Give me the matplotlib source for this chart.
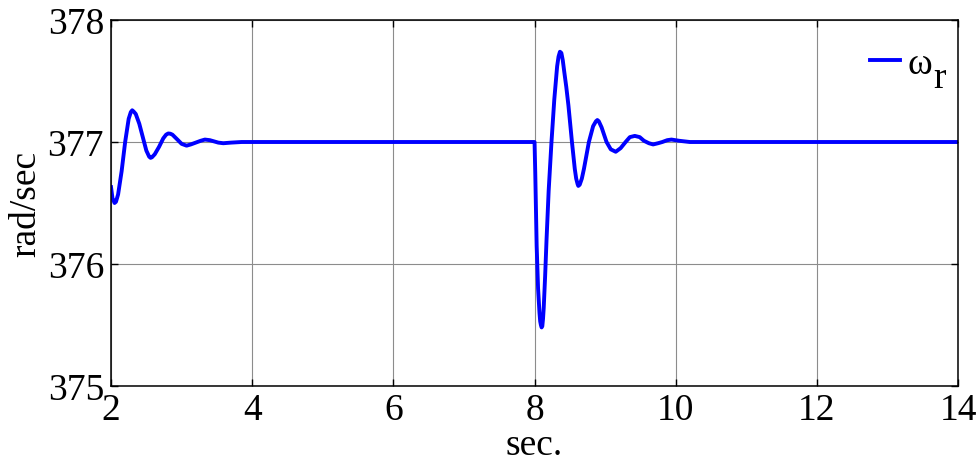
import matplotlib
matplotlib.use("Agg")
import matplotlib.pyplot as plt

plt.rcParams['font.family'] = ['Liberation Serif', 'DejaVu Serif']

# rotor speed, start-up transient then load step at t = 8 s
t_start = [2.00, 2.02, 2.05, 2.07, 2.10, 2.15, 2.20, 2.25, 2.28, 2.30, 2.32,
           2.35, 2.40, 2.45, 2.50, 2.54, 2.56, 2.58, 2.62, 2.68, 2.74, 2.78,
           2.81, 2.84, 2.87, 2.94, 3.00, 3.07, 3.13, 3.20, 3.27, 3.33, 3.40,
           3.46, 3.52, 3.59, 3.70, 3.85, 4.0, 5.0, 6.0, 7.0, 7.99]
w_start = [376.63, 376.54, 376.50, 376.51, 376.57, 376.76, 377.00, 377.19,
           377.245, 377.26, 377.25, 377.23, 377.15, 377.04, 376.93, 376.88,
           376.87, 376.875, 376.90, 376.96, 377.03, 377.06, 377.07, 377.068,
           377.06, 377.02, 376.985, 376.97, 376.98, 376.995, 377.01, 377.02,
           377.015, 377.005, 376.995, 376.99, 376.995, 377.0, 377.0, 377.0,
           377.0, 377.0, 377.0]

t_step = [8.00, 8.01, 8.02, 8.03, 8.05, 8.07, 8.08, 8.09, 8.10, 8.11, 8.12,
          8.13, 8.15, 8.17, 8.20, 8.24, 8.28, 8.32, 8.34, 8.36, 8.38, 8.40,
          8.42, 8.45, 8.48, 8.53, 8.57, 8.59, 8.61, 8.62, 8.64, 8.67, 8.70,
          8.77, 8.83, 8.87, 8.89, 8.91, 8.95, 9.02, 9.08, 9.15, 9.22, 9.29,
          9.35, 9.42, 9.49, 9.55, 9.62, 9.68, 9.75, 9.81, 9.88, 9.94, 10.05,
          10.2, 11.0, 12.0, 13.0, 14.0]
w_step = [377.0, 376.75, 376.45, 376.15, 375.80, 375.60, 375.53, 375.50,
          375.48, 375.49, 375.55, 375.64, 375.90, 376.20, 376.60, 377.00,
          377.35, 377.62, 377.70, 377.74, 377.73, 377.67, 377.58, 377.45,
          377.30, 377.00, 376.78, 376.70, 376.655, 376.64, 376.65, 376.70,
          376.78, 377.00, 377.13, 377.17, 377.18, 377.17, 377.12, 377.00,
          376.94, 376.92, 376.95, 377.00, 377.04, 377.05, 377.04, 377.01,
          376.99, 376.98, 376.99, 377.00, 377.015, 377.02, 377.01, 377.0,
          377.0, 377.0, 377.0, 377.0]

x_ticks = [2, 4, 6, 8, 10, 12, 14]
y_ticks = [375, 376, 377, 378]

fig = plt.figure(figsize=(9.8, 4.64), dpi=100)
ax = fig.add_axes([0.1133, 0.166, 0.8643, 0.7887])

ax.plot(t_start + t_step, w_start + w_step, color=(0, 0, 1), lw=2.8,
        label='\u03c9')

ax.set_xlim(2, 14)
ax.set_ylim(375, 378)
ax.set_xticks(x_ticks)
ax.set_yticks(y_ticks)
ax.grid(True, color='#8c8c8c', lw=0.8)
ax.tick_params(direction='in', length=5, width=1, top=True, right=True,
               labelsize=27, pad=5)
for s in ax.spines.values():
    s.set_linewidth(1.1)

ax.set_xlabel('sec.', fontsize=27, labelpad=0)
ax.set_ylabel('rad/sec', fontsize=27, labelpad=3)

leg = ax.legend(loc='upper right', frameon=False, fontsize=27,
                handlelength=0.8, handletextpad=0.2, borderaxespad=0.0,
                bbox_to_anchor=(0.987, 0.968))

# subscript r sits low and large, as in the original
fig.canvas.draw()
bb = leg.get_texts()[0].get_window_extent()
fig.text((bb.x1 + 1) / fig.bbox.width, (bb.y0 - 14) / fig.bbox.height, 'r',
         fontsize=27, ha='left', va='bottom')

fig.savefig('out.png', dpi=100)
